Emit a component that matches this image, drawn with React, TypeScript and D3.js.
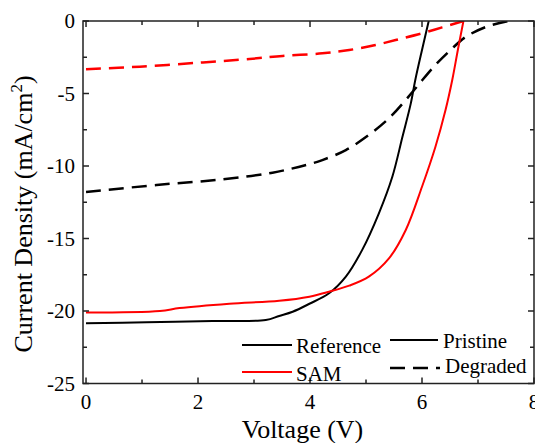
import React from "react";
import * as d3 from "d3";

const refPristineV = [0, 1.08, 2.26, 3.21, 3.45, 3.69, 3.99, 4.34, 4.64, 4.93, 5.23, 5.47, 5.65, 5.8, 5.88, 6.0, 6.12];
const refPristineJ = [-20.85, -20.78, -20.69, -20.62, -20.34, -20.05, -19.5, -18.78, -17.63, -15.8, -13.26, -10.74, -8.0, -5.68, -4.07, -2.0, 0];

const samPristineV = [0, 1.32, 1.67, 2.56, 3.45, 3.99, 4.34, 4.7, 5.05, 5.41, 5.71, 6.0, 6.24, 6.42, 6.54, 6.64, 6.74];
const samPristineJ = [-20.11, -20.0, -19.8, -19.5, -19.29, -19.01, -18.67, -18.25, -17.63, -16.37, -14.41, -11.43, -8.67, -6.14, -4.07, -2.0, 0];

const refDegradedV = [0, 1.26, 2.44, 3.33, 3.93, 4.22, 4.64, 5.05, 5.41, 5.76, 5.97, 6.24, 6.51, 6.78, 7.14, 7.54];
const refDegradedJ = [-11.79, -11.31, -10.92, -10.46, -9.93, -9.59, -8.9, -7.86, -6.71, -5.22, -4.24, -3.03, -2.0, -1.1, -0.41, 0];

const samDegradedV = [0, 0.96, 2.03, 2.92, 3.51, 4.22, 4.7, 5.17, 5.53, 6.0, 6.36, 6.74];
const samDegradedJ = [-3.33, -3.15, -2.87, -2.62, -2.41, -2.23, -2.0, -1.66, -1.31, -0.85, -0.44, 0];

const xTicks = [0, 2, 4, 6, 8];
const xMinor = [1, 3, 5, 7];
const yTicks = [0, -5, -10, -15, -20, -25];
const yMinor = [-2.5, -7.5, -12.5, -17.5, -22.5];

const W = 535;
const H = 443;
const L = 83;
const R = 534;
const T = 21;
const B = 383.5;
const FONT = '"Liberation Serif", Tinos, "Times New Roman", "DejaVu Serif", serif';

export default function App() {
  const x = d3.scaleLinear().domain([-0.054, 8]).range([L, R]);
  const y = d3.scaleLinear().domain([-25, 0]).range([B, T]);
  const line = d3
    .line<[number, number]>()
    .x((d) => x(d[0]))
    .y((d) => y(d[1]))
    .curve(d3.curveCatmullRom.alpha(0.5));
  const zip = (v: number[], j: number[]) => v.map((vv, i) => [vv, j[i]] as [number, number]);

  const series = [
    { v: refDegradedV, j: refDegradedJ, color: "#000", dash: "15,8", w: 2.5 },
    { v: samDegradedV, j: samDegradedJ, color: "#ff0000", dash: "15,8", w: 2.5 },
    { v: refPristineV, j: refPristineJ, color: "#000", dash: null, w: 2 },
    { v: samPristineV, j: samPristineJ, color: "#ff0000", dash: null, w: 2 },
  ];

  const axisColor = "#222";
  const major = 6;
  const minor = 4;
  const ts = { fontFamily: FONT };

  return (
    <svg width={W} height={H} style={{ position: "absolute", left: 0, top: 0, fontFamily: FONT }}>
      <defs>
        <clipPath id="plot">
          <rect x={L} y={T} width={R - L} height={B - T} />
        </clipPath>
      </defs>
      <rect x={0} y={0} width={W} height={H} fill="#fff" />
      <g clipPath="url(#plot)">
        {series.map((s, i) => (
          <path
            key={i}
            d={line(zip(s.v, s.j)) || ""}
            fill="none"
            stroke={s.color}
            strokeWidth={s.w}
            strokeDasharray={s.dash || undefined}
          />
        ))}
      </g>
      <g stroke={axisColor} strokeWidth={1.5}>
        {xTicks.map((t) => (
          <g key={"xt" + t}>
            <line x1={x(t)} x2={x(t)} y1={B} y2={B - major} />
            <line x1={x(t)} x2={x(t)} y1={T} y2={T + major} />
          </g>
        ))}
        {xMinor.map((t) => (
          <g key={"xm" + t}>
            <line x1={x(t)} x2={x(t)} y1={B} y2={B - minor} />
            <line x1={x(t)} x2={x(t)} y1={T} y2={T + minor} />
          </g>
        ))}
        {yTicks.map((t) => (
          <g key={"yt" + t}>
            <line x1={L} x2={L + major} y1={y(t)} y2={y(t)} />
            <line x1={R} x2={R - major} y1={y(t)} y2={y(t)} />
          </g>
        ))}
        {yMinor.map((t) => (
          <g key={"ym" + t}>
            <line x1={L} x2={L + minor} y1={y(t)} y2={y(t)} />
            <line x1={R} x2={R - minor} y1={y(t)} y2={y(t)} />
          </g>
        ))}
      </g>
      <rect x={L} y={T} width={R - L} height={B - T} fill="none" stroke={axisColor} strokeWidth={1.5} />
      {xTicks.map((t) => (
        <text key={"xl" + t} x={x(t)} y={409} textAnchor="middle" fontSize={21} fill="#000" style={ts}>
          {t}
        </text>
      ))}
      {yTicks.map((t) => (
        <text key={"yl" + t} x={75} y={y(t) + 7} textAnchor="end" fontSize={21} fill="#000" style={ts}>
          {t}
        </text>
      ))}
      <text x={(L + R) / 2 - 6} y={438} textAnchor="middle" fontSize={26} fill="#000" style={ts}>
        Voltage (V)
      </text>
      <text
        transform={`translate(32, 214) rotate(-90)`}
        textAnchor="middle"
        fontSize={26}
        fill="#000"
        style={ts}
      >
        Current Density (mA/cm<tspan dy={-10} fontSize={17}>2</tspan>
        <tspan dy={10}>)</tspan>
      </text>
      <g fontSize={21} fill="#000">
        <line x1={242} x2={292} y1={345} y2={345} stroke="#000" strokeWidth={2} />
        <text x={296} y={353} style={ts}>Reference</text>
        <line x1={242} x2={292} y1={372} y2={372} stroke="#ff0000" strokeWidth={2} />
        <text x={296} y={381} style={ts}>SAM</text>
        <line x1={390} x2={438} y1={340} y2={340} stroke="#000" strokeWidth={2} />
        <text x={443} y={348} style={ts}>Pristine</text>
        <line x1={390} x2={440} y1={368} y2={368} stroke="#000" strokeWidth={2.5} strokeDasharray="15,8" />
        <text x={445} y={373} style={ts}>Degraded</text>
      </g>
    </svg>
  );
}
